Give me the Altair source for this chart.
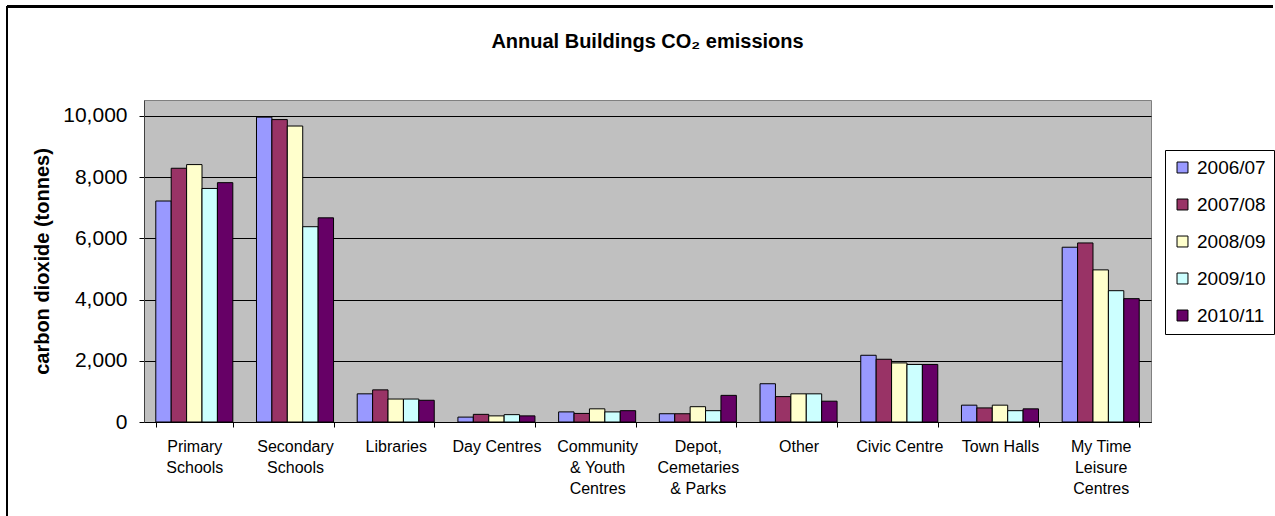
import altair as alt
import pandas as pd

categories = ["Primary|Schools", "Secondary|Schools", "Libraries", "Day Centres",
              "Community|& Youth|Centres", "Depot,|Cemetaries|& Parks", "Other",
              "Civic Centre", "Town Halls", "My Time|Leisure|Centres"]
years = ["2006/07", "2007/08", "2008/09", "2009/10", "2010/11"]
colors = ["#9999FF", "#993366", "#FFFFCC", "#CCFFFF", "#660066"]

v2006 = [7220, 9960, 920, 160, 330, 270, 1250, 2180, 550, 5710]
v2007 = [8290, 9880, 1050, 250, 280, 270, 830, 2050, 460, 5850]
v2008 = [8410, 9670, 750, 200, 430, 500, 920, 1930, 550, 4970]
v2009 = [7630, 6380, 750, 240, 330, 370, 920, 1880, 370, 4290]
v2010 = [7820, 6670, 710, 200, 370, 870, 680, 1880, 430, 4030]

series = [v2006, v2007, v2008, v2009, v2010]
rows = []
for y, vals in zip(years, series):
    for c, v in zip(categories, vals):
        rows.append({"category": c, "year": y, "value": v})
df = pd.DataFrame(rows)

FONT = "Liberation Sans"

bars = alt.Chart(df).mark_bar(stroke="black", strokeWidth=1).encode(
    x=alt.X("category:N", sort=categories, title=None,
            scale=alt.Scale(paddingInner=0.235, paddingOuter=0.117),
            axis=alt.Axis(labelExpr="split(datum.label, '|')", labelAngle=0,
                          labelFontSize=16, labelLineHeight=21, labelPadding=11,
                          labelColor="black", labelFont=FONT, tickBand="extent",
                          tickSize=5, tickColor="black", domainColor="black",
                          labelBaseline="top")),
    xOffset=alt.XOffset("year:N", sort=years, scale=alt.Scale(paddingInner=0, paddingOuter=0)),
    y=alt.Y("value:Q", title="carbon dioxide (tonnes)",
            scale=alt.Scale(domain=[0, 10520], nice=False),
            axis=alt.Axis(values=[0, 2000, 4000, 6000, 8000, 10000], format=",d",
                          labelFontSize=21, labelColor="black", labelFont=FONT,
                          labelPadding=12, tickSize=5, tickColor="black",
                          domainColor="#404040", gridColor="black", gridWidth=1,
                          titleFontSize=20, titleFont=FONT, titleFontWeight="bold",
                          titleColor="black", titlePadding=10)),
    color=alt.Color("year:N", sort=years,
                    scale=alt.Scale(domain=years, range=colors),
                    legend=alt.Legend(title=None, orient="none", legendX=1021, legendY=50,
                                      labelFontSize=19, labelFont=FONT, labelColor="black",
                                      symbolType="square", symbolSize=120,
                                      symbolStrokeColor="black", symbolStrokeWidth=1,
                                      rowPadding=17, padding=8, strokeColor="black",
                                      fillColor="white", labelOffset=5)),
)

frame_top = alt.Chart(df).mark_rule(color="black", strokeWidth=2).encode(
    x=alt.value(-137), x2=alt.value(1129), y=alt.value(-93.5))
frame_left = alt.Chart(df).mark_rule(color="black", strokeWidth=1.5).encode(
    x=alt.value(-137), y=alt.value(-94), y2=alt.value(420))

chart = alt.layer(bars, frame_top, frame_left).properties(
    width=1007, height=322,
    title=alt.TitleParams("Annual Buildings CO₂ emissions", fontSize=20, font=FONT,
                          fontWeight="bold", color="black", anchor="middle",
                          frame="group", offset=-47),
    autosize=alt.AutoSizeParams(type="none"),
    padding={"left": 144, "top": 100, "right": 124, "bottom": 94},
    background="white",
).configure_view(fill="#C0C0C0", stroke="#808080", strokeWidth=1)

chart.save("out.html", embed_options={"renderer": "svg", "actions": False})
